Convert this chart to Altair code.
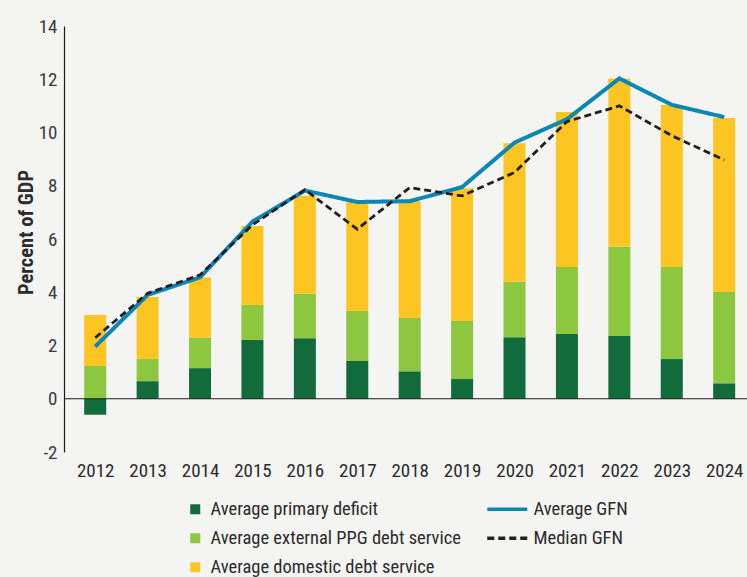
import altair as alt
import pandas as pd

# Gross financing needs, percent of GDP
years = list(range(2012, 2025))
primary_deficit = [-0.60, 0.66, 1.15, 2.21, 2.27, 1.42, 1.03, 0.74, 2.31, 2.43, 2.36, 1.49, 0.58]
external_ppg = [1.23, 0.83, 1.14, 1.31, 1.67, 1.88, 2.00, 2.18, 2.08, 2.52, 3.35, 3.46, 3.43]
domestic_debt = [1.92, 2.33, 2.26, 2.97, 3.68, 4.14, 4.39, 4.99, 5.21, 5.82, 6.32, 6.08, 6.53]
average_gfn = [1.96, 3.90, 4.56, 6.65, 7.82, 7.39, 7.42, 7.95, 9.62, 10.50, 12.03, 11.04, 10.58]
median_gfn = [2.29, 3.96, 4.65, 6.53, 7.85, 6.37, 7.93, 7.62, 8.50, 10.41, 11.00, 9.88, 8.97]

components = [
    "Average primary deficit",
    "Average external PPG debt service",
    "Average domestic debt service",
]
component_colors = ["#116b3b", "#8dc63f", "#fdc522"]
lines = ["Average GFN", "Median GFN"]
line_colors = ["#0a87b5", "#231f20"]
line_dashes = [[1, 0], [7, 4]]

y_ticks = list(range(-2, 15, 2))

FONT = "Roboto Condensed"
TEXT = "#2b2b2b"
FS = 18.5
TICK_FS = 19

bar_rows = []
for i, yr in enumerate(years):
    for rank, (name, vals) in enumerate(zip(components, [primary_deficit, external_ppg, domestic_debt])):
        bar_rows.append({"year": yr, "component": name, "value": vals[i], "rank": rank})
bars_df = pd.DataFrame(bar_rows)

line_rows = []
for name, vals in zip(lines, [average_gfn, median_gfn]):
    for yr, v in zip(years, vals):
        line_rows.append({"year": yr, "series": name, "value": v})
lines_df = pd.DataFrame(line_rows)

x_enc = alt.X(
    "year:Q",
    scale=alt.Scale(domain=[2011.5, 2024.34], nice=False, zero=False),
    axis=alt.Axis(
        values=years, labelExpr="'' + datum.value", title=None, ticks=False,
        domain=False, grid=False, labelPadding=9, labelFontSize=TICK_FS,
        labelFont=FONT, labelColor=TEXT, labelFlush=False,
    ),
)
y_scale = alt.Scale(domain=[-2, 14], nice=False, zero=False)

bars = alt.Chart(bars_df).mark_bar(size=22).encode(
    x=x_enc,
    y=alt.Y(
        "value:Q", stack="zero", scale=y_scale,
        axis=alt.Axis(
            values=y_ticks, labelExpr="'' + datum.value", ticks=False, grid=False,
            domainColor="#1a1a1a", domainWidth=1.2, labelPadding=7,
            labelFontSize=TICK_FS, labelFont=FONT, labelColor="#3a3a3a",
            title="Percent of GDP", titleFont=FONT, titleFontSize=20.5,
            titleFontWeight="bold", titleColor=TEXT, titleAngle=-90,
            titleX=-32, titleY=206, titleAlign="center", titleBaseline="alphabetic",
        ),
    ),
    color=alt.Color(
        "component:N",
        scale=alt.Scale(domain=components, range=component_colors),
        legend=alt.Legend(
            title=None, orient="none", legendX=122, legendY=474,
            symbolType="square", symbolSize=100, symbolStrokeWidth=0,
            labelFont=FONT, labelFontSize=FS, labelColor=TEXT, labelLimit=400,
            labelOffset=6, rowPadding=10, padding=0,
        ),
    ),
    order=alt.Order("rank:Q"),
)

zero_rule = alt.Chart(pd.DataFrame({"v": [0]})).mark_rule(
    color="#1a1a1a", strokeWidth=1.2
).encode(y=alt.Y("v:Q", scale=y_scale))

# long horizontal stroke as the legend glyph for the two lines
line_legend = alt.Legend(
    title=None, orient="none", legendX=434, legendY=474,
    symbolType="M-4,0H4", symbolSize=100, symbolStrokeWidth=3.5,
    labelFont=FONT, labelFontSize=FS, labelColor=TEXT, labelLimit=400,
    labelOffset=17, rowPadding=10, padding=0,
)


def gfn_layer(name, width):
    return alt.Chart(lines_df[lines_df["series"] == name]).mark_line(strokeWidth=width).encode(
        x=alt.X("year:Q"),
        y=alt.Y("value:Q", scale=y_scale),
        color=alt.Color("series:N", scale=alt.Scale(domain=lines, range=line_colors), legend=line_legend),
        strokeDash=alt.StrokeDash("series:N", scale=alt.Scale(domain=lines, range=line_dashes), legend=line_legend),
        order=alt.Order("year:Q"),
    )


lines_layer = alt.layer(zero_rule, gfn_layer("Average GFN", 4), gfn_layer("Median GFN", 2.8))

chart = (
    alt.layer(bars, lines_layer)
    .resolve_scale(color="independent", strokeDash="independent")
    .properties(
        width=683, height=426,
        autosize=alt.AutoSizeParams(type="none"),
        padding={"left": 64, "top": 26, "right": 0, "bottom": 125},
        background="#f4f4f2",
    )
    .configure_view(stroke=None)
)

chart.save("out.html", embed_options={"renderer": "svg", "actions": False})
